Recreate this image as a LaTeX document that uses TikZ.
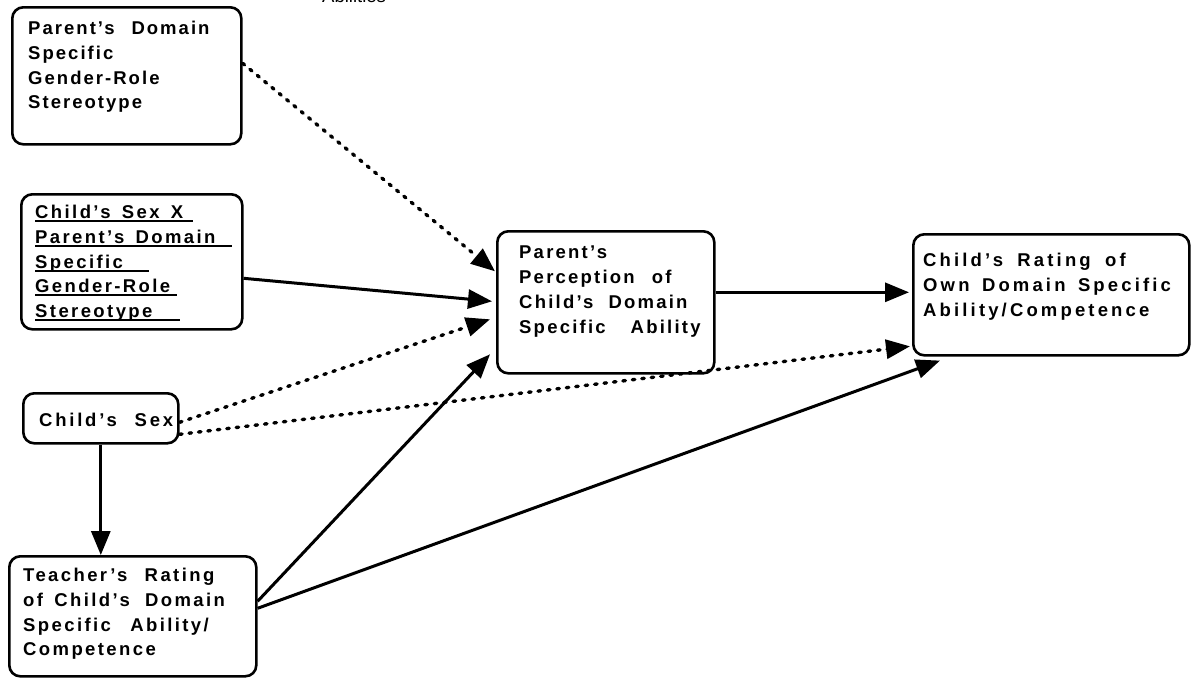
\documentclass[tikz,border=0pt]{standalone}
\usepackage{fontspec}
\setmainfont{Liberation Sans}[BoldFont={Liberation Sans Bold}, WordSpace=1.5]
\usetikzlibrary{arrows.meta}
% underlined line: rule of given width under the text
\newcommand{\ulline}[2]{\rlap{\rule[-3.5pt]{#1}{1.8pt}}#2}
\begin{document}
\begin{tikzpicture}[x=1pt,y=-1pt,
  box/.style={draw, line width=2.6pt, rounded corners=11pt, inner sep=0, anchor=north west},
  lbl/.style={anchor=north west, inner sep=0, align=left,
    font=\bfseries\fontsize{18.5}{24.7}\selectfont\addfontfeatures{LetterSpace=#1}},
  tip/.style={-{Triangle[length=24pt,width=19pt]}},
  solidarrow/.style={tip, line width=3pt},
  dotarrow/.style={tip, line width=3.4pt, dash pattern=on 2.5pt off 7pt, line cap=round}]

\useasboundingbox (0,0) rectangle (1193,680);

% heading line above the figure
\node[anchor=base west, inner sep=0, font=\fontsize{18.5}{22}\selectfont] (head) at (322,2) {Abilities};

% boxes
\node[box, minimum width=229pt, minimum height=137pt] (A) at (11,6) {};
\node[box, minimum width=221pt, minimum height=135pt] (B) at (20,193) {};
\node[box, minimum width=155pt, minimum height=50pt]  (C) at (22,392) {};
\node[box, minimum width=247pt, minimum height=120pt] (D) at (8,555) {};
\node[box, minimum width=217pt, minimum height=142pt] (E) at (496,230) {};
\node[box, minimum width=276pt, minimum height=121pt] (F) at (912,233) {};

% box texts
\node[lbl=11] (At) at (28,21) {Parent's\hspace{6pt} Domain\\Specific\\Gender-Role\\Stereotype};
\node[lbl=13] (Bt) at (35,205) {%
  \ulline{158pt}{Child's Sex X}\\
  \ulline{197pt}{Parent's Domain}\\
  \ulline{114pt}{Specific}\\
  \ulline{142pt}{Gender-Role}\\
  \ulline{145pt}{Stereotype}};
\node[lbl=15] (Ct) at (39,413) {Child's\hspace{6pt} Sex};
\node[lbl=13] (Dt) at (23,568) {Teacher's\hspace{6pt} Rating\\of Child's\hspace{4pt} Domain\\Specific\hspace{8pt} Ability/\\Competence};
\node[lbl=12] (Et) at (519,246) {Parent's\\Perception\hspace{6pt} of\\Child's\hspace{4pt} Domain\\Specific\hspace{14pt} Ability};
\node[lbl=17] (Ft) at (923,253) {Child's\hspace{2pt} Rating\hspace{2pt} of\\Own Domain Specific\\Ability/Competence};

% connectors
\draw[dotarrow]   ([yshift=12.5pt]A.east) -- ([xshift=-1pt,yshift=31pt]E.west);
\draw[solidarrow] ([yshift=-16.5pt]B.east) -- ([xshift=-4pt,yshift=1pt]E.west);
\draw[dotarrow]   ([yshift=-4pt]C.east) -- ([xshift=-6pt,yshift=-17pt]E.west);
\draw[dotarrow]   ([yshift=-16pt]C.east) -- ([xshift=-2pt,yshift=-51.5pt]F.west);
\draw[solidarrow] (C.south) -- (C.south |- D.north);
\draw[solidarrow] ([yshift=15pt]D.east) -- ([xshift=-6pt,yshift=-52pt]E.west);
\draw[solidarrow] ([yshift=8pt]D.east) -- ([shift={(28pt,-4pt)}]F.south west);
\draw[solidarrow] ([yshift=10pt]E.east) -- ([xshift=-3pt,yshift=2.5pt]F.west);
\end{tikzpicture}
\end{document}
